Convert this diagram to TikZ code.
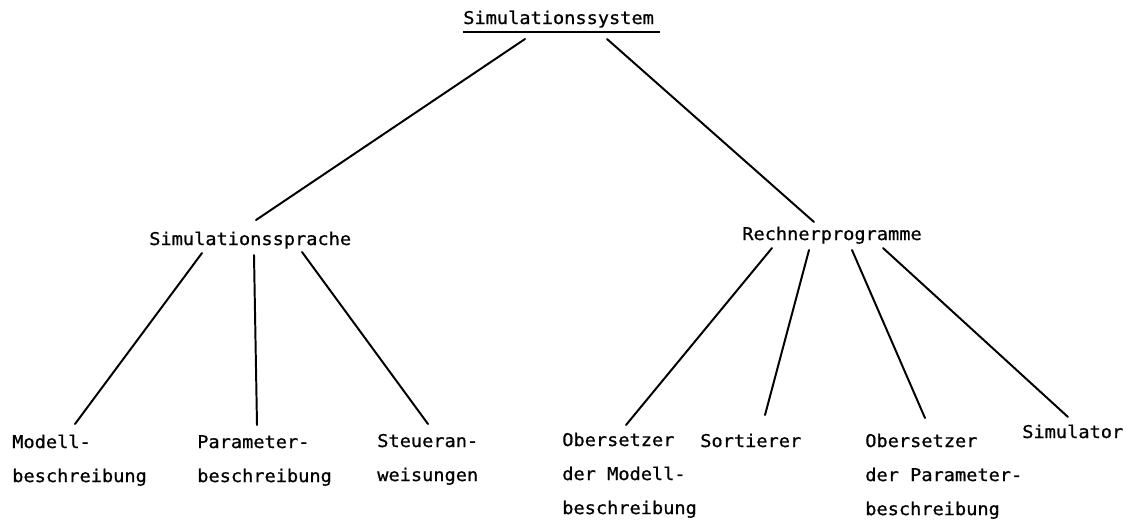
\documentclass[tikz,border=0pt]{standalone}
\usepackage{fontspec}
\usetikzlibrary{positioning}
\newfontfamily\typewriter[FakeStretch=1.06, FakeBold=0.8]{DejaVu Sans Mono}
\tikzset{
  lbl/.style={anchor=base west, inner sep=0pt, font=\typewriter\fontsize{12.5}{24.2}\selectfont},
  leaf/.style={lbl},
  link/.style={line width=1.4pt, line cap=round, draw=black}
}

\begin{document}
\begin{tikzpicture}
\useasboundingbox (0,0) rectangle (28.3,-12.975);

\node[lbl] (sys) at (11.575,-0.6) {Simulationssystem};

\node[lbl] (sprache) at (3.725,-6.125) {Simulationssprache};
\node[lbl] (rechner) at (18.55,-6.0) {Rechnerprogramme};

% leaves: \vtop keeps the first line on the base anchor
\node[leaf] (modell) at (0.3,-11.2) {\vtop{\hbox{Modell-}\hbox{beschreibung}}};
\node[leaf] (parameter) at (4.925,-11.2) {\vtop{\hbox{Parameter-}\hbox{beschreibung}}};
\node[leaf] (steuer) at (9.425,-11.175) {\vtop{\hbox{Steueran-}\hbox{weisungen}}};
\node[leaf] (uebsmod) at (14.05,-11.15) {\vtop{\hbox{Obersetzer}\hbox{der Modell-}\hbox{beschreibung}}};
\node[leaf] (sort) at (17.5,-11.175) {Sortierer};
\node[leaf] (uebspar) at (21.625,-11.175) {\vtop{\hbox{Obersetzer}\hbox{der Parameter-}\hbox{beschreibung}}};
\node[leaf] (simul) at (25.55,-10.95) {Simulator};

% underline of the root
\draw[line width=1.7pt] ([yshift=-0.2cm]sys.base west) -- ([yshift=-0.2cm, xshift=0.15cm]sys.base east);

\draw[link] ([shift={(1.55,-0.375)}]sys.base west) -- ([shift={(2.675,0.625)}]sprache.base west);
\draw[link] ([shift={(3.6,-0.375)}]sys.base west) -- ([shift={(1.8,0.45)}]rechner.base west);

\draw[link] ([shift={(1.325,-0.2)}]sprache.base west) -- ([shift={(1.575,0.6)}]modell.base west);
\draw[link] ([shift={(2.625,-0.25)}]sprache.base west) -- ([shift={(1.5,0.575)}]parameter.base west);
\draw[link] ([shift={(3.825,-0.175)}]sprache.base west) -- ([shift={(1.275,0.575)}]steuer.base west);

\draw[link] ([shift={(0.75,-0.2)}]rechner.base west) -- ([shift={(1.6,0.525)}]uebsmod.base west);
\draw[link] ([shift={(1.675,-0.25)}]rechner.base west) -- ([shift={(1.625,0.8)}]sort.base west);
\draw[link] ([shift={(2.75,-0.25)}]rechner.base west) -- ([shift={(1.5,0.725)}]uebspar.base west);
\draw[link] ([shift={(3.525,-0.2)}]rechner.base west) -- ([shift={(1.15,0.525)}]simul.base west);
\end{tikzpicture}
\end{document}
